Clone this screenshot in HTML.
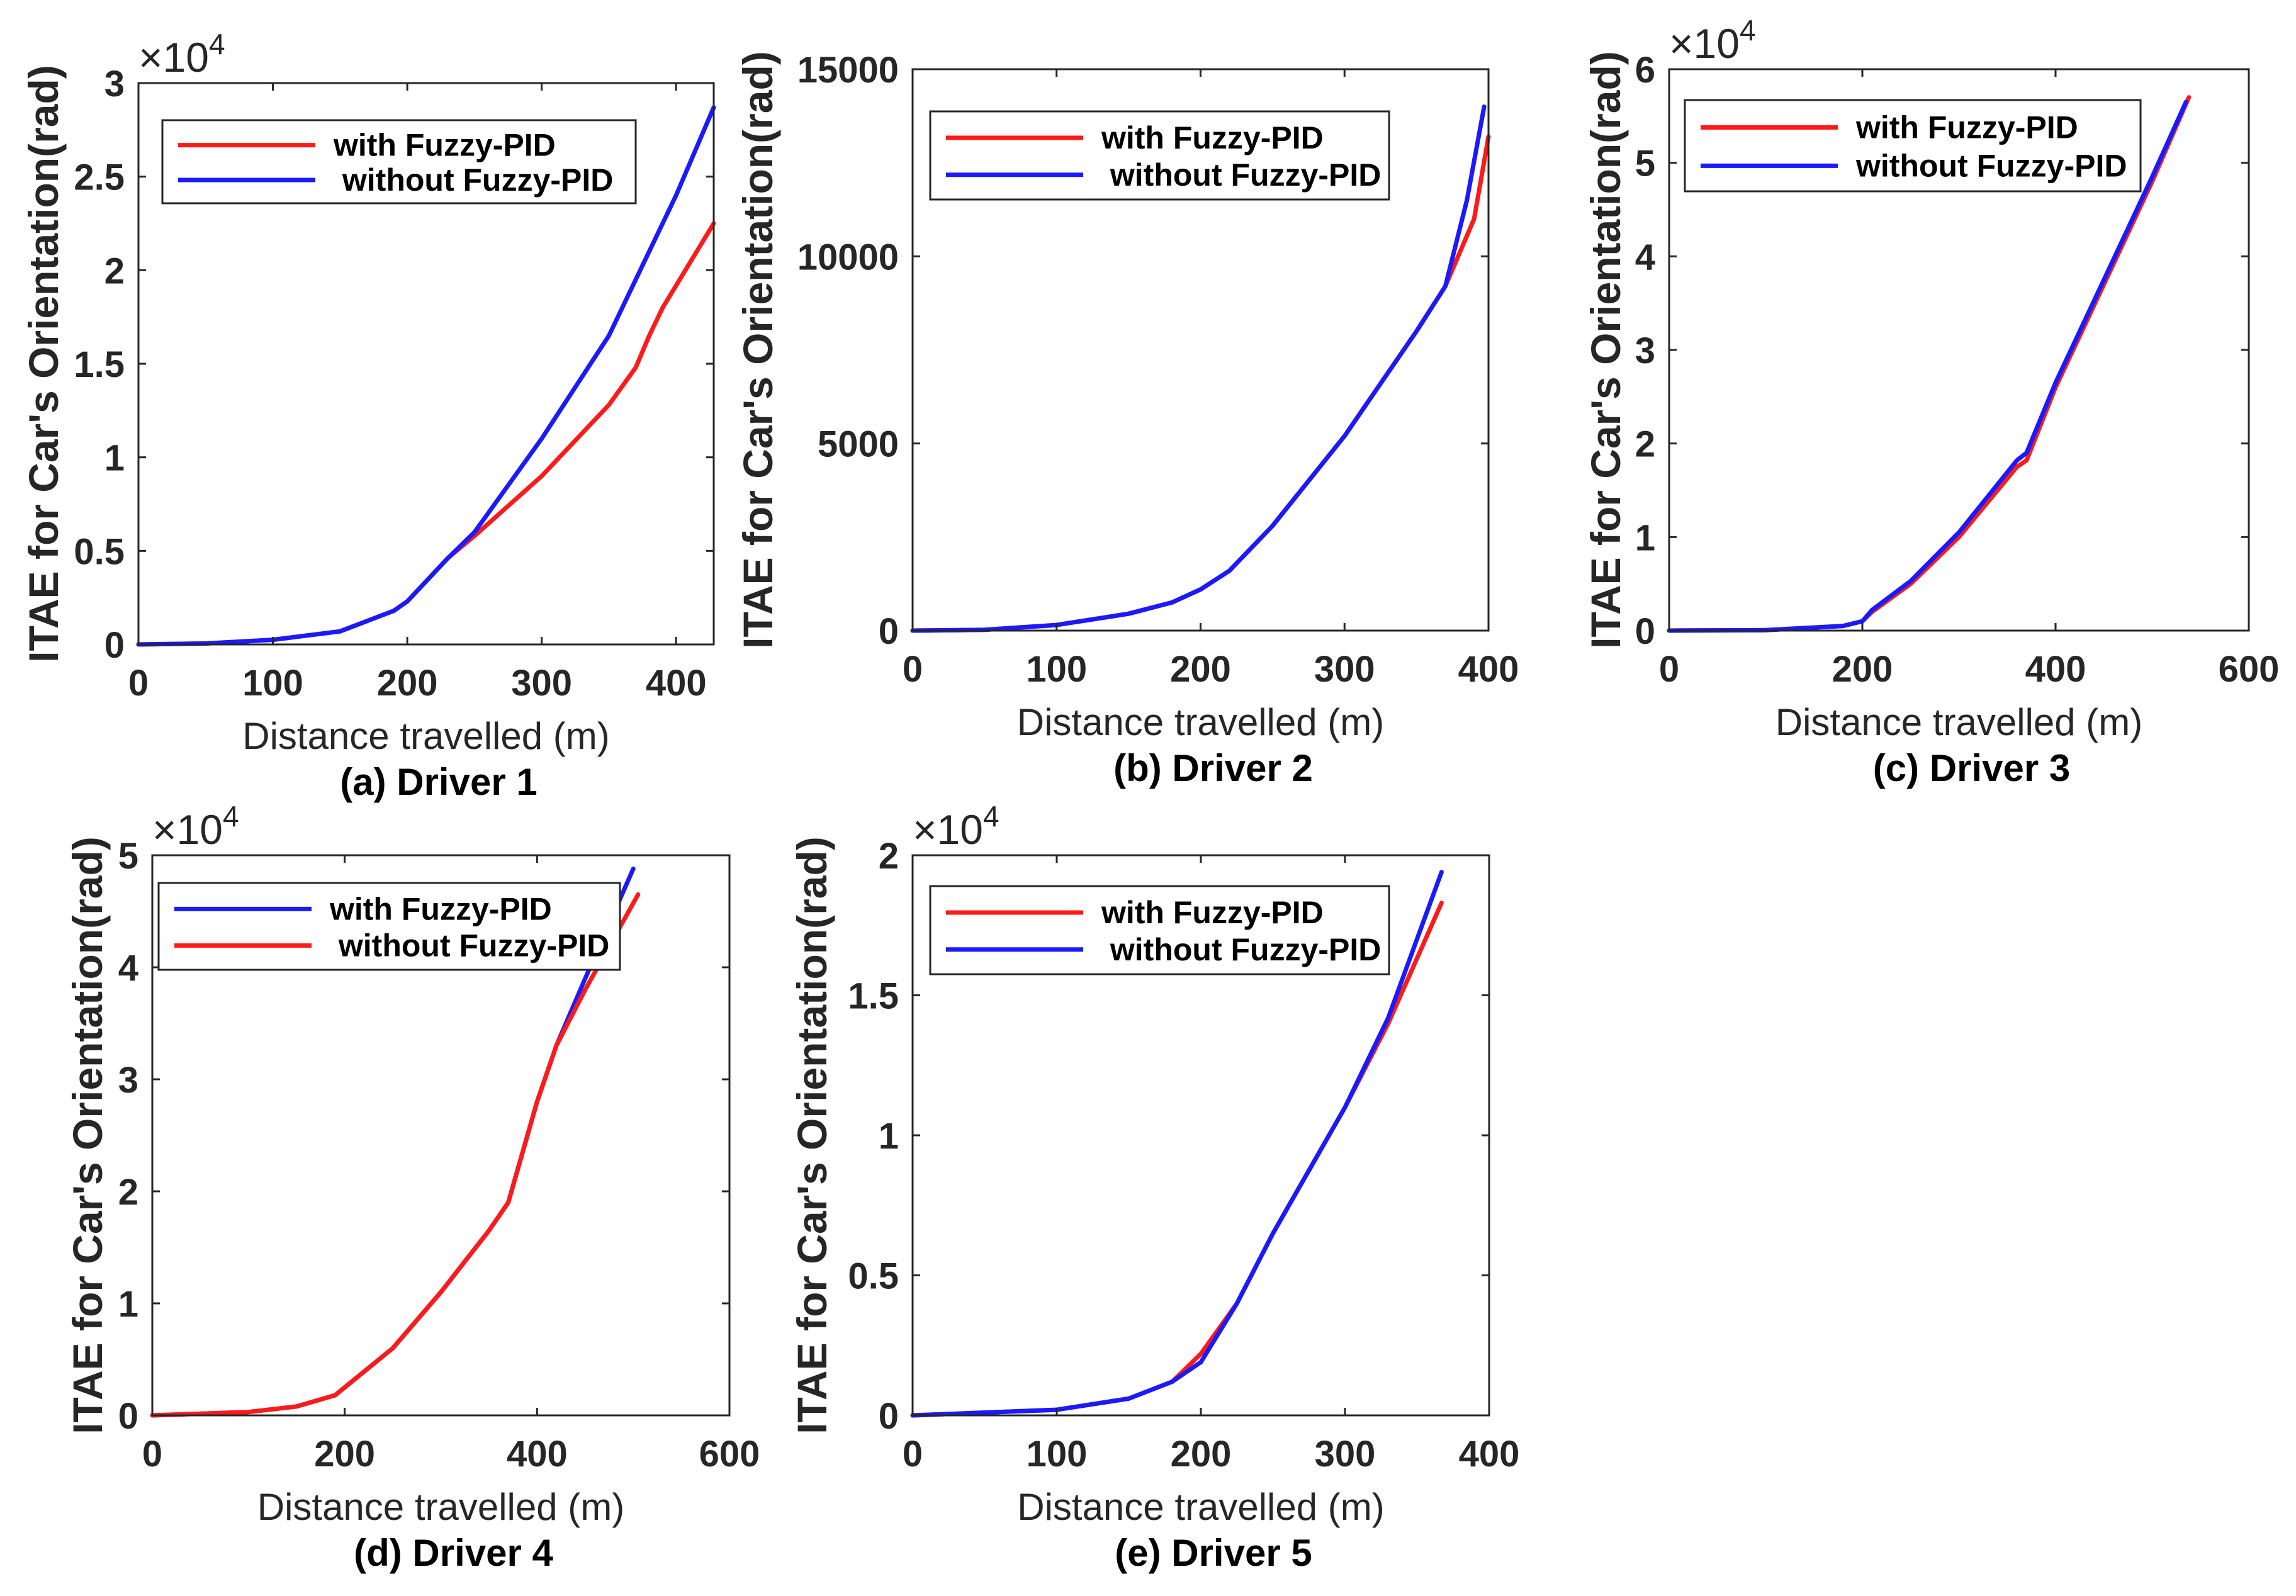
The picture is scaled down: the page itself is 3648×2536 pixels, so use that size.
<!DOCTYPE html>
<html><head><meta charset="utf-8"><style>
html,body{margin:0;padding:0;background:#fff;}
svg{display:block;}
text{font-family:"Liberation Sans",Arial,sans-serif;fill:#262626;}
.tick{font-size:58px;font-weight:bold;}
.xl{font-size:60px;}
.yl{font-size:66px;font-weight:bold;}
.cap{font-size:60px;font-weight:bold;fill:#000;}
.leg{font-size:50px;font-weight:bold;fill:#000;}
.exp{font-size:66px;}
</style></head><body>
<svg id="fig" width="3648" height="2536" viewBox="0 0 3648 2536" xmlns="http://www.w3.org/2000/svg"></svg>
<script>
// Driver 1
const d1WithX=[0,50,100,150,190,200,230,250,300,350,370,380,390,428];
const d1WithY=[0,50,250,700,1800,2300,4600,5800,9000,12800,14800,16500,18000,22500];
const d1WithoutX=[0,50,100,150,190,200,230,250,300,350,370,400,428];
const d1WithoutY=[0,50,250,700,1800,2300,4600,6000,11000,16500,19500,24000,28700];
// Driver 2
const d2WithX=[0,50,100,150,180,200,220,250,300,350,370,390,400];
const d2WithY=[0,20,150,450,750,1100,1600,2800,5200,8000,9200,11000,13200];
const d2WithoutX=[0,50,100,150,180,200,220,250,300,350,370,385,397];
const d2WithoutY=[0,20,150,450,750,1100,1600,2800,5200,8000,9200,11500,14000];
// Driver 3
const d3WithX=[0,100,180,200,210,250,300,360,370,400,450,500,538];
const d3WithY=[0,50,500,1000,2000,5000,10000,17500,18200,26000,37000,48000,57000];
const d3WithoutX=[0,100,180,200,210,250,300,360,370,400,450,500,535];
const d3WithoutY=[0,50,500,1000,2200,5300,10500,18200,19000,26500,37500,48500,56500];
// Driver 4
const d4WithX=[0,100,150,190,200,250,300,350,370,400,420,450,500];
const d4WithY=[0,300,800,1800,2500,6000,11000,16500,19000,28000,33000,39000,48800];
const d4WithoutX=[0,100,150,190,200,250,300,350,370,400,420,450,505];
const d4WithoutY=[0,300,800,1800,2500,6000,11000,16500,19000,28000,33000,38000,46500];
// Driver 5
const d5WithX=[0,100,150,180,200,225,250,300,330,367];
const d5WithY=[0,200,600,1200,2200,4000,6500,11000,14000,18300];
const d5WithoutX=[0,100,150,180,200,225,250,300,330,367];
const d5WithoutY=[0,200,600,1200,1900,4000,6500,11000,14200,19400];
// ticks
const xTicksA=[0,100,200,300,400];
const xTicks400=[0,100,200,300,400];
const xTicks600=[0,200,400,600];
const yTicksA=[0,0.5,1,1.5,2,2.5,3];
const yTicksB=[0,5000,10000,15000];
const yTicksC=[0,1,2,3,4,5,6];
const yTicksD=[0,1,2,3,4,5];
const yTicksE=[0,0.5,1,1.5,2];

const NS="http://www.w3.org/2000/svg";
const svg=document.getElementById('fig');
function mk(tag,attrs,parent,txt){const e=document.createElementNS(NS,tag);for(const k in attrs)e.setAttribute(k,attrs[k]);if(txt!==undefined)e.textContent=txt;(parent||svg).appendChild(e);return e;}

const panels=[
 {id:'a',L:220,R:1134,T:132,B:1024,xmax:428,ymax:3,scale:1e4,xt:xTicksA,yt:yTicksA,exp:true,ylx:-150,cap:'(a) Driver 1',
  leg:[258,191,1010,323],series:[[d1WithX,d1WithY,'#ff1a1a','with Fuzzy-PID'],[d1WithoutX,d1WithoutY,'#1a1aff','\u00a0without Fuzzy-PID']]},
 {id:'b',L:1450,R:2365,T:110,B:1002,xmax:400,ymax:15000,scale:1,xt:xTicks400,yt:yTicksB,exp:false,ylx:-245,cap:'(b) Driver 2',
  leg:[1478,177,2207,317],series:[[d2WithX,d2WithY,'#ff1a1a','with Fuzzy-PID'],[d2WithoutX,d2WithoutY,'#1a1aff','\u00a0without Fuzzy-PID']]},
 {id:'c',L:2652,R:3573,T:110,B:1002,xmax:600,ymax:6,scale:1e4,xt:xTicks600,yt:yTicksC,exp:true,ylx:-100,cap:'(c) Driver 3',
  leg:[2677,159,3401,304],series:[[d3WithX,d3WithY,'#ff1a1a','with Fuzzy-PID'],[d3WithoutX,d3WithoutY,'#1a1aff','without Fuzzy-PID']]},
 {id:'d',L:242,R:1159,T:1359,B:2249,xmax:600,ymax:5,scale:1e4,xt:xTicks600,yt:yTicksD,exp:true,ylx:-102,cap:'(d) Driver 4',
  leg:[252,1403,985,1541],series:[[d4WithX,d4WithY,'#1a1aff','with Fuzzy-PID'],[d4WithoutX,d4WithoutY,'#ff1a1a','\u00a0without Fuzzy-PID']]},
 {id:'e',L:1450,R:2366,T:1359,B:2249,xmax:400,ymax:2,scale:1e4,xt:xTicks400,yt:yTicksE,exp:true,ylx:-159,cap:'(e) Driver 5',
  leg:[1478,1408,2207,1548],series:[[d5WithX,d5WithY,'#ff1a1a','with Fuzzy-PID'],[d5WithoutX,d5WithoutY,'#1a1aff','\u00a0without Fuzzy-PID']]}
];

panels.forEach(p=>{
 const g=mk('g',{});
 
 
 const sx=v=>p.L+(v/p.xmax)*(p.R-p.L);
 const sy=v=>p.B-(v/p.scale/p.ymax)*(p.B-p.T);
 const sv=v=>p.B-(v/p.ymax)*(p.B-p.T);
 p.series.forEach((s,i)=>{
  const d=s[0].map((x,j)=>(j?'L':'M')+sx(x).toFixed(1)+' '+sy(s[1][j]).toFixed(1)).join(' ');
  const path=mk('path',{d:d,fill:'none',stroke:s[2],'stroke-width':7,'stroke-linejoin':'round','stroke-linecap':'round'},g);
  
  
 });
 const box=mk('rect',{x:p.L,y:p.T,width:p.R-p.L,height:p.B-p.T,fill:'none',stroke:'#262626','stroke-width':3},g);
 
 
 p.xt.forEach(v=>{
  const x=sx(v);
  mk('line',{x1:x,y1:p.B,x2:x,y2:p.B-12,stroke:'#262626','stroke-width':3},g);
  mk('line',{x1:x,y1:p.T,x2:x,y2:p.T+12,stroke:'#262626','stroke-width':3},g);
  const t=mk('text',{x:x,y:p.B+81,'text-anchor':'middle',class:'tick'},g,String(v));
  
  
 });
 p.yt.forEach(v=>{
  const y=sv(v);
  mk('line',{x1:p.L,y1:y,x2:p.L+12,y2:y,stroke:'#262626','stroke-width':3},g);
  mk('line',{x1:p.R,y1:y,x2:p.R-12,y2:y,stroke:'#262626','stroke-width':3},g);
  const t=mk('text',{x:p.L-22,y:y+21,'text-anchor':'end',class:'tick'},g,String(v));
  
  
 });
 if(p.exp){
  const t=mk('text',{x:p.L,y:p.T-18,class:'exp'},g);
  
  
  mk('tspan',{},t,'\u00d710');
  mk('tspan',{dy:-28,'font-size':'46'},t,'4');
 }
 const cx=(p.L+p.R)/2;
 const xl=mk('text',{x:cx,y:p.B+166,'text-anchor':'middle',class:'xl'},g,'Distance travelled (m)');
 
 
 const cap=mk('text',{x:cx+20,y:p.B+239,'text-anchor':'middle',class:'cap'},g,p.cap);
 
 
 const cy=(p.T+p.B)/2, yx=p.L+p.ylx+22;
 const yl=mk('text',{x:yx,y:cy,'text-anchor':'middle',class:'yl',transform:'rotate(-90 '+yx+' '+cy+')'},g,"ITAE for Car's Orientation(rad)");
 
 
 const [lx1,ly1,lx2,ly2]=p.leg;
 const lg=mk('g',{},g);
 
 
 mk('rect',{x:lx1,y:ly1,width:lx2-lx1,height:ly2-ly1,fill:'#fff',stroke:'#262626','stroke-width':3},lg);
 const h=ly2-ly1;
 p.series.forEach((s,i)=>{
  const yy=ly1+h*(i?0.72:0.3);
  mk('line',{x1:lx1+25,y1:yy,x2:lx1+243,y2:yy,stroke:s[2],'stroke-width':7},lg);
  const t=mk('text',{x:lx1+272,y:yy+17,class:'leg'},lg,s[3]);
  
  
 });
});
</script>
</body></html>
